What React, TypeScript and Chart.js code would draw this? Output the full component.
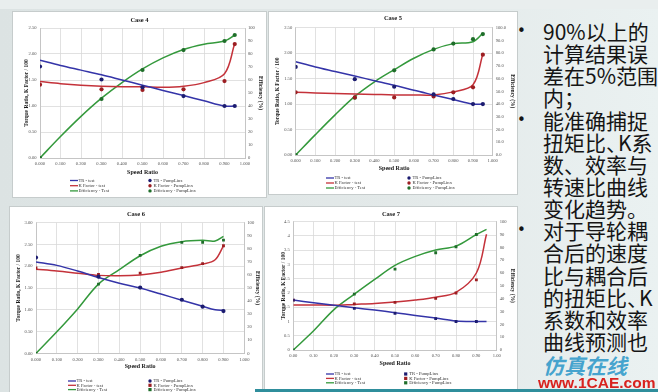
import React, { useEffect, useRef } from "react";
import { Chart, registerables } from "chart.js";
Chart.register(...registerables);

// ---------- DATA ----------
const c4TestX = [0, 0.1, 0.2, 0.3, 0.4, 0.5, 0.6, 0.7, 0.8, 0.9, 0.95];
const c4TrTest = [1.88, 1.78, 1.69, 1.6, 1.5, 1.4, 1.3, 1.2, 1.1, 1.0, 1.0];
const c4KTest = [1.47, 1.43, 1.4, 1.38, 1.37, 1.37, 1.36, 1.38, 1.45, 1.62, 2.2];
const c4EffTest = [0, 16.5, 32, 46, 58, 68.5, 77, 83.5, 87.5, 90, 94.6];
const c4PumpX = [0, 0.3, 0.5, 0.7, 0.9, 0.95];
const c4TrPump = [1.76, 1.51, 1.36, 1.19, 1.0, 1.0];
const c4KPump = [1.41, 1.32, 1.31, 1.32, 1.48, 2.19];
const c4EffPump = [0, 45.4, 67.7, 83, 90, 94.6];

const c5TestX = [0, 0.1, 0.2, 0.3, 0.4, 0.5, 0.6, 0.7, 0.8, 0.9, 0.95];
const c5TrTest = [1.83, 1.73, 1.64, 1.55, 1.46, 1.37, 1.27, 1.18, 1.09, 1.0, 1.0];
const c5KTest = [1.23, 1.22, 1.21, 1.2, 1.19, 1.18, 1.18, 1.18, 1.24, 1.38, 1.98];
const c5EffTest = [0, 16, 31.5, 46, 57.5, 67, 76, 83, 87.5, 89, 95.6];
const c5PumpX = [0, 0.3, 0.5, 0.7, 0.8, 0.9, 0.95];
const c5TrPump = [1.73, 1.49, 1.34, 1.19, 1.1, 1.0, 1.0];
const c5KPump = [1.23, 1.13, 1.13, 1.15, 1.23, 1.33, 1.97];
const c5EffPump = [0, 45, 66.5, 82.9, 87.5, 91, 95];

const c6TestX = [0, 0.1, 0.2, 0.3, 0.4, 0.5, 0.6, 0.7, 0.8, 0.86, 0.9];
const c6TrTest = [2.1, 2.02, 1.89, 1.74, 1.61, 1.5, 1.36, 1.22, 1.08, 1.0, 0.99];
const c6KTest = [1.93, 1.89, 1.84, 1.79, 1.78, 1.8, 1.86, 1.96, 2.05, 2.15, 2.47];
const c6EffTest = [0, 16.5, 34, 53, 64, 74.7, 82, 85.5, 86.5, 86, 89.5];
const c6PumpX = [0, 0.3, 0.5, 0.7, 0.8, 0.9];
const c6TrPump = [2.2, 1.76, 1.51, 1.23, 1.07, 0.97];
const c6KPump = [1.96, 1.81, 1.84, 1.97, 2.06, 2.47];
const c6EffPump = [0, 53, 75, 85, 85, 86.6];

const c7TestX = [0, 0.1, 0.2, 0.3, 0.4, 0.5, 0.6, 0.7, 0.8, 0.9, 0.95];
const c7TrTest = [1.75, 1.66, 1.57, 1.48, 1.4, 1.31, 1.21, 1.12, 1.02, 1.0, 1.0];
const c7KTest = [1.58, 1.58, 1.57, 1.6, 1.63, 1.68, 1.75, 1.85, 2.02, 2.7, 4.06];
const c7EffTest = [0, 15, 31.5, 43.5, 55, 66, 73, 78, 81, 90, 94];
const c7PumpX = [0, 0.3, 0.5, 0.7, 0.8, 0.9];
const c7TrPump = [1.75, 1.46, 1.29, 1.1, 1.0, 1.0];
const c7KPump = [1.75, 1.62, 1.67, 1.81, 2.0, 2.46];
const c7EffPump = [0, 43.6, 63, 75.8, 80.5, 90];

const seriesLabels = [
  "TR - test",
  "K Factor - test",
  "Efficiency - Test",
  "TR - PumpLinx",
  "K Factor - PumpLinx",
  "Efficiency - PumpLinx",
];
const caseTitles = ["Case 4", "Case 5", "Case 6", "Case 7"];
const xAxisTitle = "Speed Ratio";
const yAxisTitle = "Torque Ratio, K Factor / 100";
const y1AxisTitle = "Efficiency (%)";

const textLines = [
  "90%以上的",
  "计算结果误",
  "差在5%范围",
  "内；",
  "能准确捕捉",
  "扭矩比、K系",
  "数、效率与",
  "转速比曲线",
  "变化趋势。",
  "对于导轮耦",
  "合后的速度",
  "比与耦合后",
  "的扭矩比、K",
  "系数和效率",
  "曲线预测也",
];
const bulletLines = [0, 4, 9];

// ---------- STYLE / LAYOUT ----------
const SERIF = '"Liberation Serif", "Times New Roman", serif';
const COLORS = {
  trLine: "#3434a8",
  kLine: "#c4323a",
  effLine: "#34993c",
  trDot: "#1c1c70",
  kDot: "#9c1e22",
  effDot: "#1f6e2a",
};

type Spec = {
  title: string;
  testX: number[];
  tr: number[];
  k: number[];
  eff: number[];
  pumpX: number[];
  trP: number[];
  kP: number[];
  effP: number[];
  yMax: number;
  xDec: number;
  yFmt: (v: number) => string;
  y1Fmt: (v: number) => string;
  dotStyles: string[];
  L: any;
};

const specs: Spec[] = [
  {
    title: caseTitles[0],
    testX: c4TestX, tr: c4TrTest, k: c4KTest, eff: c4EffTest,
    pumpX: c4PumpX, trP: c4TrPump, kP: c4KPump, effP: c4EffPump,
    yMax: 2.5, xDec: 3,
    yFmt: (v) => v.toFixed(2),
    y1Fmt: (v) => String(Math.round(v)),
    dotStyles: ["circle", "circle", "circle"],
    L: {
      panel: { x: 13, y: 12, w: 253, h: 185 },
      plot: { l: 40, t: 28, r: 245, b: 158 },
      titleY: 20, xTitleY: 172, yTitleX: 26.5, y1TitleX: 260,
      legend: { x1: 70, x2: 150, y0: 180.5, dy: 5.2 },
    },
  },
  {
    title: caseTitles[1],
    testX: c5TestX, tr: c5TrTest, k: c5KTest, eff: c5EffTest,
    pumpX: c5PumpX, trP: c5TrPump, kP: c5KPump, effP: c5EffPump,
    yMax: 2.5, xDec: 3,
    yFmt: (v) => v.toFixed(2),
    y1Fmt: (v) => v.toFixed(1),
    dotStyles: ["circle", "circle", "circle"],
    L: {
      panel: { x: 269, y: 12, w: 248, h: 182 },
      plot: { l: 295.7, t: 27.7, r: 492.7, b: 155 },
      titleY: 18.5, xTitleY: 168, yTitleX: 277.5, y1TitleX: 512,
      legend: { x1: 326, x2: 409, y0: 178, dy: 5 },
    },
  },
  {
    title: caseTitles[2],
    testX: c6TestX, tr: c6TrTest, k: c6KTest, eff: c6EffTest,
    pumpX: c6PumpX, trP: c6TrPump, kP: c6KPump, effP: c6EffPump,
    yMax: 3, xDec: 3,
    yFmt: (v) => v.toFixed(2),
    y1Fmt: (v) => String(Math.round(v)),
    dotStyles: ["circle", "rect", "rect"],
    L: {
      panel: { x: 10, y: 207, w: 252, h: 192 },
      plot: { l: 36, t: 222.7, r: 244.3, b: 353.3 },
      titleY: 214, xTitleY: 366.5, yTitleX: 18.3, y1TitleX: 257,
      legend: { x1: 68, x2: 150, y0: 381, dy: 4.3 },
    },
  },
  {
    title: caseTitles[3],
    testX: c7TestX, tr: c7TrTest, k: c7KTest, eff: c7EffTest,
    pumpX: c7PumpX, trP: c7TrPump, kP: c7KPump, effP: c7EffPump,
    yMax: 4.5, xDec: 2,
    yFmt: (v) => String(Math.round(v * 10) / 10),
    y1Fmt: (v) => String(Math.round(v)),
    dotStyles: ["rect", "rect", "rect"],
    L: {
      panel: { x: 265, y: 207, w: 252, h: 183 },
      plot: { l: 293.3, t: 221.7, r: 496.7, b: 350 },
      titleY: 214, xTitleY: 363, yTitleX: 283.3, y1TitleX: 512,
      legend: { x1: 326, x2: 405.7, y0: 374, dy: 4.4 },
    },
  },
];

const legendPlugin = {
  id: "twoColLegend",
  afterDraw(chart: any, _args: any, opts: any) {
    const ctx = chart.ctx;
    ctx.save();
    ctx.font = `${opts.size}px ${SERIF}`;
    ctx.textBaseline = "middle";
    chart.data.datasets.forEach((ds: any) => {
      const y = opts.y0 + ds.legendRow * opts.dy;
      if (ds.legendCol === 0) {
        ctx.strokeStyle = ds.borderColor;
        ctx.lineWidth = 1.3;
        ctx.beginPath();
        ctx.moveTo(opts.x1, y);
        ctx.lineTo(opts.x1 + 8, y);
        ctx.stroke();
        ctx.fillStyle = "#333";
        ctx.fillText(ds.label, opts.x1 + 8.5, y);
      } else {
        ctx.fillStyle = ds.backgroundColor;
        if (ds.pointStyle === "rect") {
          ctx.fillRect(opts.x2 - 1.6, y - 1.6, 3.2, 3.2);
        } else {
          ctx.beginPath();
          ctx.arc(opts.x2, y, 1.7, 0, Math.PI * 2);
          ctx.fill();
        }
        ctx.fillStyle = "#333";
        ctx.fillText(ds.label, opts.x2 + 3.5, y);
      }
    });
    ctx.restore();
  },
};

function CaseChart({ spec }: { spec: Spec }) {
  const ref = useRef<HTMLCanvasElement>(null);
  const { panel } = spec.L;
  useEffect(() => {
    const L = spec.L;
    const W = L.panel.w;
    const H = L.panel.h;
    const pl = L.plot.l - L.panel.x;
    const pt = L.plot.t - L.panel.y;
    const pr = L.plot.r - L.panel.x;
    const pb = L.plot.b - L.panel.y;
    const titleRel = L.titleY - L.panel.y;
    const xTitleRel = L.xTitleY - L.panel.y;
    const TS = 6.5;
    const AS = 5.5;
    const XS = 6;
    const xAxisH = xTitleRel + XS / 2 - pb;
    const padBottom = H - pb - xAxisH;
    const pts = (xs: number[], ys: number[]) => xs.map((x, i) => ({ x, y: ys[i] }));
    const lineDs = (label: string, xs: number[], ys: number[], color: string, axis: string, row: number) => ({
      label,
      data: pts(xs, ys),
      yAxisID: axis,
      borderColor: color,
      backgroundColor: color,
      borderWidth: 1.5,
      pointRadius: 0,
      tension: 0.35,
      showLine: true,
      order: 2,
      legendCol: 0,
      legendRow: row,
    });
    const dotDs = (label: string, xs: number[], ys: number[], color: string, axis: string, row: number, style: string) => ({
      label,
      data: pts(xs, ys),
      yAxisID: axis,
      borderColor: color,
      backgroundColor: color,
      borderWidth: 0,
      pointRadius: style === "rect" ? 2 : 2.1,
      pointStyle: style,
      showLine: false,
      order: 1,
      legendCol: 1,
      legendRow: row,
    });
    const datasets = [
      dotDs(seriesLabels[3], spec.pumpX, spec.trP, COLORS.trDot, "y", 0, spec.dotStyles[0]),
      dotDs(seriesLabels[4], spec.pumpX, spec.kP, COLORS.kDot, "y", 1, spec.dotStyles[1]),
      dotDs(seriesLabels[5], spec.pumpX, spec.effP, COLORS.effDot, "y1", 2, spec.dotStyles[2]),
      lineDs(seriesLabels[0], spec.testX, spec.tr, COLORS.trLine, "y", 0),
      lineDs(seriesLabels[1], spec.testX, spec.k, COLORS.kLine, "y", 1),
      lineDs(seriesLabels[2], spec.testX, spec.eff, COLORS.effLine, "y1", 2),
    ];
    const tickFont = { family: SERIF, size: 4.6 };
    const grid = { color: "#d9d9d9", lineWidth: 0.8, drawTicks: false };
    const chart = new Chart(ref.current as HTMLCanvasElement, {
      type: "line",
      data: { datasets } as any,
      plugins: [legendPlugin],
      options: {
        animation: false,
        responsive: false,
        events: [],
        layout: { padding: { left: 0, right: 0, top: 0, bottom: padBottom } },
        plugins: {
          legend: { display: false },
          tooltip: { enabled: false },
          title: {
            display: true,
            text: spec.title,
            color: "#1a1a1a",
            font: { family: SERIF, size: TS, weight: "bold", lineHeight: 1 },
            padding: { top: titleRel - TS / 2, bottom: pt - titleRel - TS / 2 },
          },
          twoColLegend: {
            x1: L.legend.x1 - L.panel.x,
            x2: L.legend.x2 - L.panel.x,
            y0: L.legend.y0 - L.panel.y,
            dy: L.legend.dy,
            size: 4.6,
          },
        } as any,
        scales: {
          x: {
            type: "linear",
            position: "bottom",
            min: 0,
            max: 1,
            ticks: {
              stepSize: 0.1,
              autoSkip: false,
              maxRotation: 0,
              padding: 3.5,
              font: tickFont,
              color: "#555",
              callback: (v: any) => Number(v).toFixed(spec.xDec),
            },
            grid,
            border: { color: "#bfbfbf", width: 0.8 },
            title: {
              display: true,
              text: xAxisTitle,
              color: "#1a1a1a",
              font: { family: SERIF, size: XS, weight: "bold", lineHeight: 1 },
              padding: 0,
            },
            afterFit: (s: any) => {
              s.height = xAxisH;
            },
          },
          y: {
            position: "left",
            min: 0,
            max: spec.yMax,
            ticks: {
              stepSize: 0.5,
              padding: 3.5,
              font: tickFont,
              color: "#555",
              callback: (v: any) => spec.yFmt(Number(v)),
            },
            grid,
            border: { color: "#bfbfbf", width: 0.8 },
            title: {
              display: true,
              text: yAxisTitle,
              color: "#1a1a1a",
              font: { family: SERIF, size: AS, weight: "bold", lineHeight: 1 },
              padding: { top: L.yTitleX - L.panel.x - AS / 2, bottom: 0 },
            },
            afterFit: (s: any) => {
              s.width = pl;
            },
          },
          y1: {
            position: "right",
            min: 0,
            max: 100,
            ticks: {
              stepSize: 10,
              padding: 3,
              font: tickFont,
              color: "#555",
              callback: (v: any) => spec.y1Fmt(Number(v)),
            },
            grid: { drawOnChartArea: false, drawTicks: false },
            border: { color: "#bfbfbf", width: 0.8 },
            title: {
              display: true,
              text: y1AxisTitle,
              color: "#1a1a1a",
              font: { family: SERIF, size: AS, weight: "bold", lineHeight: 1 },
              padding: { top: W - (L.y1TitleX - L.panel.x) - AS / 2, bottom: 0 },
            },
            afterFit: (s: any) => {
              s.width = W - pr;
            },
          },
        } as any,
      },
    });
    return () => chart.destroy();
  }, [spec]);
  return (
    <div
      style={{
        position: "absolute",
        left: panel.x,
        top: panel.y,
        width: panel.w,
        height: panel.h,
        background: "#ffffff",
        boxShadow: "0 0 0 1px #c6cccc",
      }}
    >
      <canvas ref={ref} width={panel.w} height={panel.h} style={{ display: "block" }} />
    </div>
  );
}

function renderLine(t: string) {
  if (t.indexOf("K") >= 0 && t.indexOf("、") >= 0) {
    const parts = t.split("、");
    return (
      <>
        {parts[0]}
        <span style={{ letterSpacing: "-9px" }}>、</span>
        <span style={{ marginLeft: 0 }}>{parts[1]}</span>
      </>
    );
  }
  return t;
}

export default function App() {
  const lineH = 22.15;
  const firstCenter = 31;
  return (
    <div
      style={{
        position: "fixed",
        left: 0,
        top: 0,
        width: 658,
        height: 392,
        overflow: "hidden",
        background: "linear-gradient(90deg, #dce3e3 0%, #e3e9e9 60%, #eaf1f1 100%)",
      }}
    >
      <div style={{ position: "absolute", left: 0, top: 0, width: 658, height: 9, background: "#e9eeee" }} />
      {specs.map((s, i) => (
        <CaseChart key={i} spec={s} />
      ))}
      <div style={{ position: "absolute", left: 255, top: 389, width: 403, height: 3, background: "#2f8e9c" }} />
      {textLines.map((t, i) => (
        <div
          key={i}
          style={{
            position: "absolute",
            left: 543,
            top: firstCenter + i * lineH - lineH / 2,
            height: lineH,
            lineHeight: lineH + "px",
            fontSize: 21,
            fontFamily: '"Noto Sans CJK SC", "Noto Sans", sans-serif',
            color: "#151515",
            whiteSpace: "nowrap",
          }}
        >
          {renderLine(t)}
        </div>
      ))}
      {bulletLines.map((i) => (
        <div
          key={"b" + i}
          style={{
            position: "absolute",
            left: 517,
            top: firstCenter + i * lineH - lineH / 2,
            height: lineH,
            lineHeight: lineH + "px",
            fontSize: 15,
            fontFamily: '"DejaVu Sans", sans-serif',
            color: "#151515",
          }}
        >
          •
        </div>
      ))}
      <div
        style={{
          position: "absolute",
          left: 543,
          top: 353,
          fontSize: 21,
          lineHeight: "24px",
          fontFamily: '"Noto Sans CJK SC", sans-serif',
          fontWeight: 700,
          fontStyle: "italic",
          color: "rgba(40,150,200,0.85)",
          whiteSpace: "nowrap",
        }}
      >
        仿真在线
      </div>
      <div
        style={{
          position: "absolute",
          left: 538,
          top: 374,
          fontSize: 15.5,
          lineHeight: "18px",
          fontFamily: '"Liberation Sans", Arial, sans-serif',
          fontWeight: 700,
          color: "#d8231f",
          whiteSpace: "nowrap",
        }}
      >
        www.1CAE.com
      </div>
    </div>
  );
}
